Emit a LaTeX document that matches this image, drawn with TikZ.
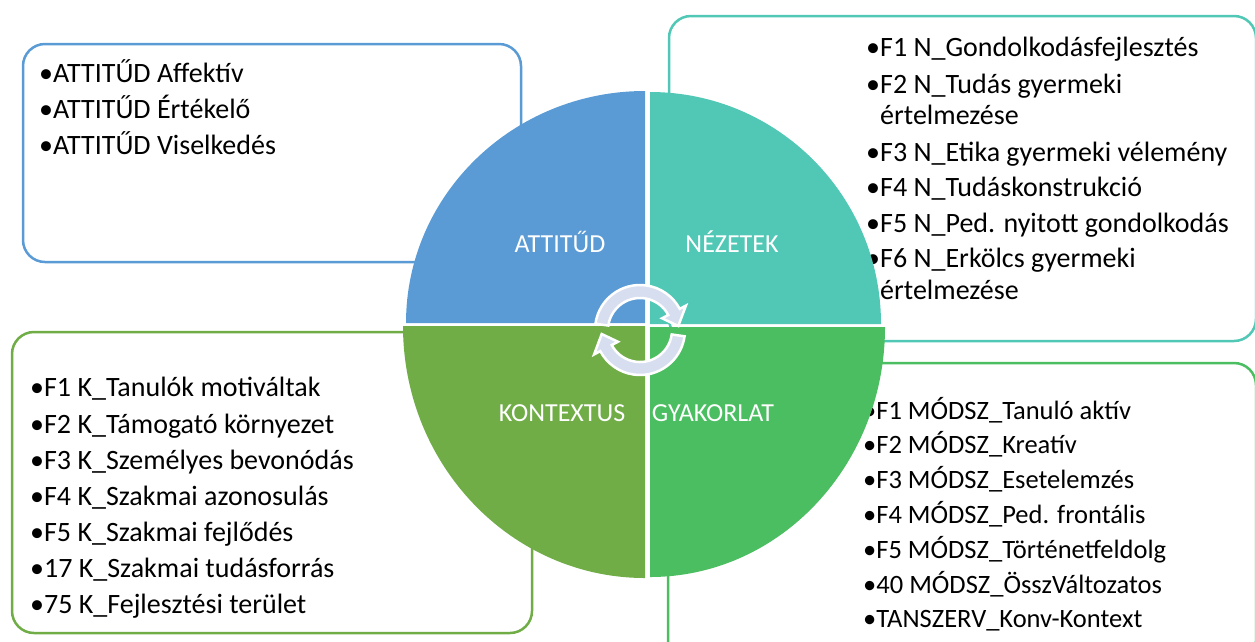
\documentclass[tikz,border=0pt]{standalone}
\usepackage{fontspec}
\setmainfont{Carlito}
\usetikzlibrary{calc}
\definecolor{cblue}{HTML}{5B9BD5}
\definecolor{cteal}{HTML}{50C8B5}
\definecolor{cgreen}{HTML}{70AD47}
\definecolor{cgreenb}{HTML}{4CBE62}
\definecolor{carrow}{HTML}{D6DEF0}
\begin{document}
\begin{tikzpicture}[x=1pt,y=-1pt,
  box/.style={draw, rounded corners=22pt, line width=2.5pt, fill=white, inner sep=0pt, outer sep=0pt},
  itm/.style={anchor=base west, inner sep=0pt, font=\fontsize{28}{34}\selectfont},
  itms/.style={anchor=base west, inner sep=0pt, font=\fontsize{26.5}{32}\selectfont},
  qlabel/.style={text=white, inner sep=0pt, font=\fontsize{26}{30}\selectfont},
  cyc/.style={fill=carrow, draw=white, line width=2.5pt, line join=miter}]
\useasboundingbox (0,0) rectangle (1255,641);
\clip (0,0) rectangle (1255,641);

% background boxes
\node[box, draw=cblue, minimum width=498pt, minimum height=218pt] (boxA) at (272,153) {};
\node[box, draw=cteal, minimum width=587pt, minimum height=325pt] (boxN) at (962.5,178.5) {};
\node[box, draw=cgreen, minimum width=520pt, minimum height=301pt] (boxK) at (272,482.5) {};
\node[box, draw=cgreenb, minimum width=588pt, minimum height=300pt] (boxG) at (962,513) {};

% texts of the boxes
\node[itm] (a1) at (39,82) {•ATTITŰD Affektív};
\node[itm] (a2) at (39,118) {•ATTITŰD Értékelő};
\node[itm] (a3) at (39,154) {•ATTITŰD Viselkedés};

\node[itm] (n1) at (866,56) {•F1 N\_Gondolkodásfejlesztés};
\node[itm] (n2) at (866,93) {•F2 N\_Tudás gyermeki};
\node[itm] (n2b) at (880,124) {értelmezése};
\node[itm] (n3) at (866,161) {•F3 N\_Etika gyermeki vélemény};
\node[itm] (n4) at (866,196) {•F4 N\_Tudáskonstrukció};
\node[itm] (n5) at (866,232) {•F5 N\_Ped. nyitott gondolkodás};
\node[itm] (n6) at (866,267) {•F6 N\_Erkölcs gyermeki};
\node[itm] (n6b) at (880,299) {értelmezése};

\node[itm] (k1) at (30,396) {•F1 K\_Tanulók motiváltak};
\node[itm] (k2) at (30,433) {•F2 K\_Támogató környezet};
\node[itm] (k3) at (30,469) {•F3 K\_Személyes bevonódás};
\node[itm] (k4) at (30,505) {•F4 K\_Szakmai azonosulás};
\node[itm] (k5) at (30,541) {•F5 K\_Szakmai fejlődés};
\node[itm] (k6) at (30,577) {•17 K\_Szakmai tudásforrás};
\node[itm] (k7) at (30,613) {•75 K\_Fejlesztési terület};

\node[itms] (g1) at (863,419) {•F1 MÓDSZ\_Tanuló aktív};
\node[itms] (g2) at (863,453.8) {•F2 MÓDSZ\_Kreatív};
\node[itms] (g3) at (863,488.6) {•F3 MÓDSZ\_Esetelemzés};
\node[itms] (g4) at (863,523.4) {•F4 MÓDSZ\_Ped. frontális};
\node[itms] (g5) at (863,558.2) {•F5 MÓDSZ\_Történetfeldolg};
\node[itms] (g6) at (863,593) {•40 MÓDSZ\_ÖsszVáltozatos};
\node[itms] (g7) at (863,627.8) {•TANSZERV\_Konv-Kontext};

% quadrants
\fill[cblue] (645,323) -- (406,323) arc[start angle=180, end angle=270, x radius=239, y radius=232] -- cycle;
\fill[cteal] (650,324) -- (650,92) arc[start angle=270, end angle=360, x radius=231, y radius=232] -- cycle;
\fill[cgreenb] (650,327) -- (885,327) arc[start angle=0, end angle=90, x radius=235, y radius=250] -- cycle;
\fill[cgreen] (645,326) -- (645,578) arc[start angle=90, end angle=180, x radius=242, y radius=252] -- cycle;

% quadrant labels
\node[qlabel] (qa) at (560,242) {ATTITŰD};
\node[qlabel] (qn) at (732,242) {NÉZETEK};
\node[qlabel] (qk) at (562,413) {KONTEXTUS};
\node[qlabel] (qg) at (713,413) {GYAKORLAT};

% central cycle arrows
\coordinate (c) at (640,330);
\path[cyc] ($(c)+(188:45)$) arc[start angle=188, end angle=332, radius=45]
  -- ($(c)+(332:52)$) -- ($(c)+(354:38.5)$) -- ($(c)+(332:25)$)
  -- ($(c)+(332:32)$) arc[start angle=332, end angle=188, radius=32] -- cycle;
\path[cyc] ($(c)+(8:45)$) arc[start angle=8, end angle=152, radius=45]
  -- ($(c)+(152:52)$) -- ($(c)+(174:38.5)$) -- ($(c)+(152:25)$)
  -- ($(c)+(152:32)$) arc[start angle=152, end angle=8, radius=32] -- cycle;
\end{tikzpicture}
\end{document}
